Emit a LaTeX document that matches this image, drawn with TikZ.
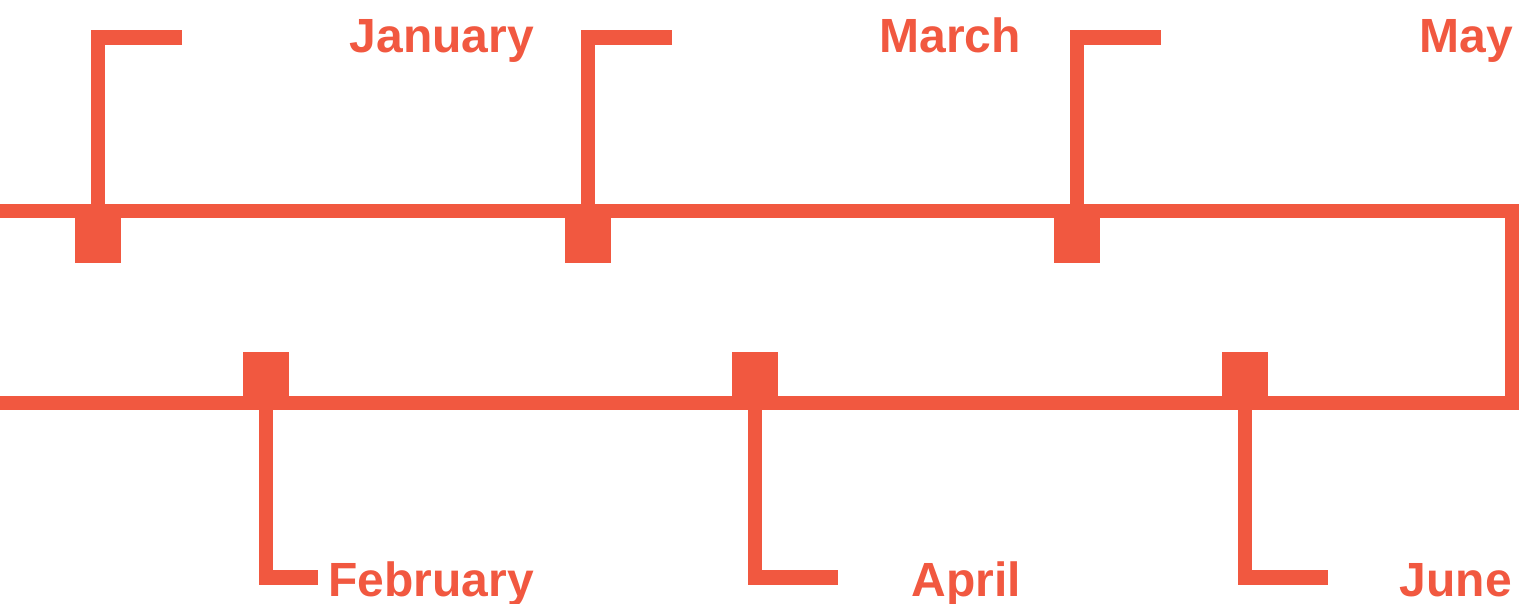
\documentclass[tikz,border=0pt]{standalone}
\usepackage{fontspec}
\setmainfont{Liberation Sans}
\definecolor{tl}{RGB}{241,88,64}
\tikzset{
  tline/.style={draw=tl, line width=14.5pt, line join=miter, line cap=butt},
  sq/.style={fill=tl, draw=none, minimum width=46pt, minimum height=46pt, inner sep=0pt},
  lbl/.style={text=tl, font=\fontsize{48}{57}\selectfont\bfseries, inner sep=0pt, anchor=base east}
}
\begin{document}
\begin{tikzpicture}[x=1pt,y=-1pt]
\useasboundingbox (0,0) rectangle (1529,603);
% main path
\coordinate (l0) at (0,211);
\coordinate (r0) at (1512,211);
\coordinate (r1) at (1512,403);
\coordinate (l1) at (0,403);
\draw[tline] (l0) -- (r0) -- (r1) -- (l1);
% top markers
\foreach \n/\x/\name/\tx in {jan/98/January/534, mar/588/March/1021, may/1077/May/1513}{
  \node[sq] (\n) at (\x,240) {};
  \coordinate (\n top) at (\x,211);
  \coordinate (\n c) at (\x,37.5);
  \coordinate (\n h) at (\x+84,37.5);
  \draw[tline] (\n top) -- (\n c) -- (\n h);
  \node[lbl] (\n l) at (\tx,52.5) {\name};
}
% bottom markers
\foreach \n/\x/\f/\name/\tx in {feb/266/52/February/534, apr/755/83/April/1021, jun/1245/83/June/1512}{
  \node[sq] (\n) at (\x,375) {};
  \coordinate (\n top) at (\x,403);
  \coordinate (\n c) at (\x,577.5);
  \coordinate (\n h) at (\x+\f,577.5);
  \draw[tline] (\n top) -- (\n c) -- (\n h);
  \node[lbl] (\n l) at (\tx,596.5) {\name};
}
\end{tikzpicture}
\end{document}
